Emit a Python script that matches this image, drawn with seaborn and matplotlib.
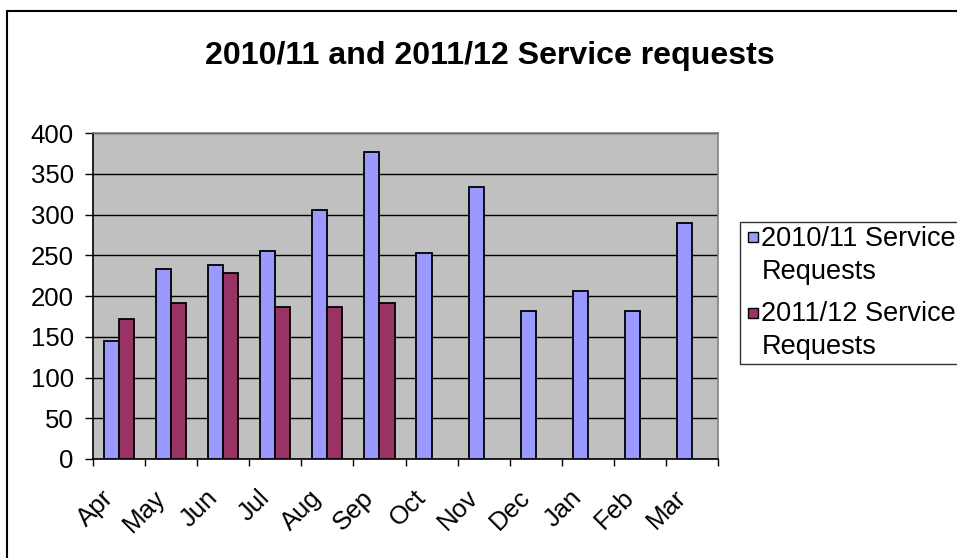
import pandas as pd
import numpy as np
import matplotlib.pyplot as plt
import matplotlib.patches as mpatches
import matplotlib.transforms as mtransforms
from matplotlib.legend_handler import HandlerPatch
import seaborn as sns

months = ['Apr', 'May', 'Jun', 'Jul', 'Aug', 'Sep', 'Oct', 'Nov', 'Dec', 'Jan', 'Feb', 'Mar']
requests_1011 = [145, 233, 238, 255, 305, 377, 253, 334, 181, 206, 181, 290]
requests_1112 = [172, 191, 228, 186, 186, 191]
series = ['2010/11 Service Requests', '2011/12 Service Requests']
legend_labels = ['2010/11 Service\nRequests', '2011/12 Service\nRequests']
colors = ['#9999FF', '#993366']

df = pd.concat([
    pd.DataFrame({'Month': months, 'Requests': requests_1011, 'Series': series[0]}),
    pd.DataFrame({'Month': months[:len(requests_1112)], 'Requests': requests_1112, 'Series': series[1]}),
])

sns.set_style('white')
plt.rcParams['font.family'] = ['Liberation Sans', 'DejaVu Sans']
plt.rcParams.update({'text.color': 'black', 'xtick.color': 'black', 'ytick.color': 'black',
                     'axes.labelcolor': 'black'})

W, H = 957, 558
fig = plt.figure(figsize=(W / 100, H / 100), dpi=100)
ax = fig.add_axes([93 / W, (H - 459) / H, (718 - 93) / W, (459 - 133) / H])

sns.barplot(data=df, x='Month', y='Requests', hue='Series', order=months, hue_order=series,
            palette=colors, saturation=1, width=0.58, gap=0, edgecolor='black', linewidth=1.3,
            errorbar=None, legend=False, ax=ax, zorder=3)

ax.set_facecolor('#C0C0C0')
ax.set_ylim(0, 400)
ax.set_xlim(-0.5, len(months) - 0.5)
ax.set_yticks(np.arange(0, 401, 50))
ax.yaxis.grid(True, color='black', linewidth=1.0, zorder=1)
ax.set_axisbelow(True)
ax.set_xlabel('')
ax.set_ylabel('')
for s in ['left', 'bottom']:
    ax.spines[s].set_color('black')
    ax.spines[s].set_linewidth(1.2)
for s in ['top', 'right']:
    ax.spines[s].set_color('#808080')
    ax.spines[s].set_linewidth(1.2)

# ticks on category boundaries, labels at centres
ax.set_xticks(np.arange(-0.5, len(months), 1))
ax.set_xticklabels([])
ax.set_xticks(np.arange(len(months)), minor=True)
ax.set_xticklabels(months, minor=True, rotation=45, ha='right', va='top', rotation_mode='anchor')
ax.tick_params(axis='x', which='major', direction='out', length=5, width=1, bottom=True)
ax.tick_params(axis='x', which='minor', length=0, pad=19, labelsize=18.5)
ax.tick_params(axis='y', direction='out', length=5.8, width=1, left=True, pad=8.0, labelsize=18.5)
shift = mtransforms.ScaledTranslation(-0.18, 0, fig.dpi_scale_trans)
for lbl in ax.get_xticklabels(minor=True):
    lbl.set_transform(lbl.get_transform() + shift)

fig.text(490 / W, 1 - 64 / H, '2010/11 and 2011/12 Service requests', ha='center', va='baseline',
         fontsize=23.1, fontweight='bold')

# legend: square marker beside first line of each label
def first_line_square(legend, orig_handle, xdescent, ydescent, width, height, fontsize):
    return mpatches.Rectangle((2.9, 16.6), 7.2, 7.2)

handles = [mpatches.Patch(facecolor=c, edgecolor='black', linewidth=1.0) for c in colors]
leg = fig.legend(handles, legend_labels, loc='upper left', bbox_to_anchor=(740 / W, 1 - 222 / H),
                 borderaxespad=0, fontsize=19.5, frameon=True, fancybox=False, edgecolor='black',
                 handlelength=0.37, handletextpad=0.27, borderpad=0.15, labelspacing=0.61,
                 handler_map={mpatches.Patch: HandlerPatch(patch_func=first_line_square)})
leg.get_frame().set_linewidth(1.0)
for t in leg.get_texts():
    t.set_linespacing(1.34)

fig.patches.append(mpatches.Rectangle((7 / W, -0.1), 2, (H - 11) / H + 0.1, transform=fig.transFigure,
                                      fill=False, edgecolor='black', linewidth=1.5))

fig.savefig('out.png', dpi=100, facecolor='white')
